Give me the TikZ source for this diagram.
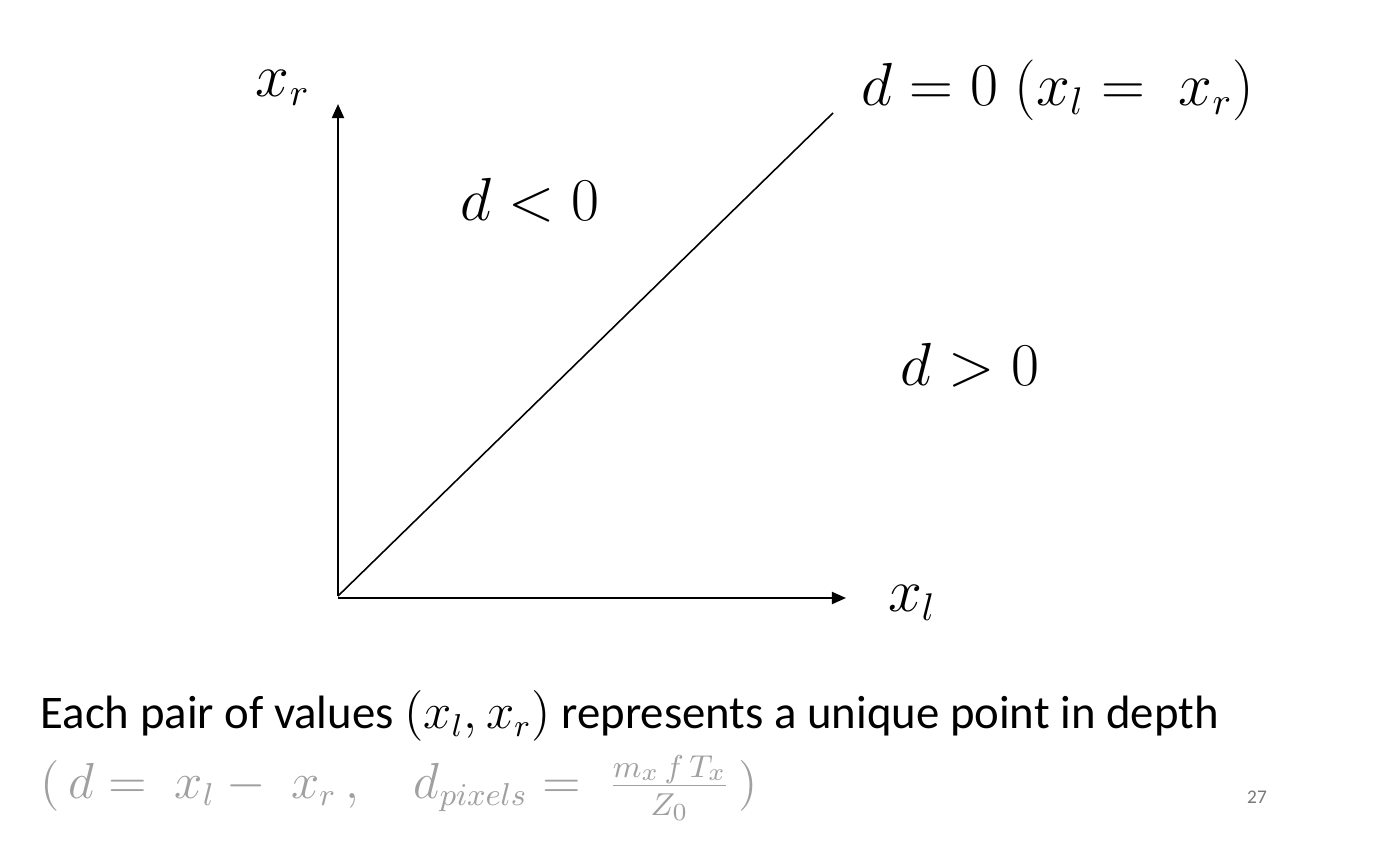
\documentclass[tikz,border=0pt]{standalone}
\usepackage{fontspec}
\setmainfont{Carlito}
\usepackage{tikz}
\usetikzlibrary{arrows.meta}

\definecolor{softgray}{RGB}{160,160,160}
\definecolor{numgray}{RGB}{120,120,120}

\begin{document}
\begin{tikzpicture}[x=0.01cm, y=-0.01cm, >={Triangle[length=4pt, width=3.4pt]}]
    \useasboundingbox[fill=white] (0,0) rectangle (1386,840);
    \tikzset{
        axis/.style={line width=0.6pt},
        lbl/.style={font=\fontsize{16}{18}\selectfont, inner sep=0pt},
        txt/.style={font=\fontsize{13.3}{16}\selectfont, anchor=west, inner sep=0pt}
    }

    \coordinate (o) at (338,596);
    \coordinate (ytip) at (338,104);
    \coordinate (xtip) at (846,598);
    \coordinate (dtop) at (833,113);

    \draw[axis, ->] (o) -- (ytip);
    \draw[axis, ->] (338,598) -- (xtip);
    \draw[line width=0.45pt] (o) -- (dtop);

    \node[lbl] (xr) at (283,88) {$x_r$};
    \node[lbl] (xl) at (912,603) {$x_l$};
    \node[lbl] (neg) at (530,200) {$d < 0$};
    \node[lbl] (pos) at (970,365) {$d > 0$};
    \node[lbl] (zero) at (1058,90) {$d = 0 \; (x_l = \; x_r)$};

    \node[txt] (pair) at (40,716) {Each pair of values $(x_l, x_r)$ represents a unique point in depth};
    \node[txt, text=softgray] (disp) at (40,788) {$(\,d = \; x_l - \; x_r\,, \quad d_{pixels} = \; \frac{m_x\, f\, T_x}{Z_0}\,)$};
    \node[font=\fontsize{5.5}{6}\selectfont, text=numgray, inner sep=0pt] (page) at (1257,797) {27};
\end{tikzpicture}
\end{document}
